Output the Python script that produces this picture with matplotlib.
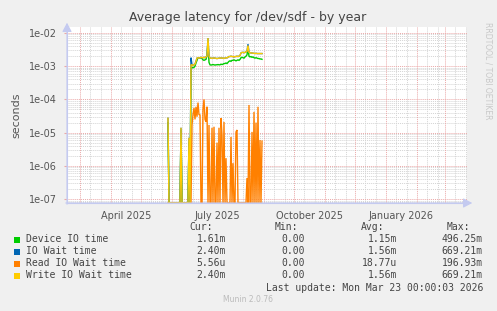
import numpy as np
import pandas as pd
import matplotlib
matplotlib.use("Agg")
import matplotlib.pyplot as plt
import matplotlib.dates as mdates
from matplotlib.transforms import blended_transform_factory

# ---------------- data (one value per day, starting 2025-05-28) ----------------
start_date = "2025-05-28"

device_io = ([2.0e-5] + [0.0] * 12 + [1.2e-5] + [0.0] * 7 + [5e-6, 0.0, 9.0e-4,
             9.0e-4, 9.0e-4, 9.2e-4, 1.0e-3, 1.25e-3, 1.5e-3,
             1.8e-3, 1.8e-3, 1.75e-3, 1.8e-3, 1.7e-3,
             1.55e-3, 1.5e-3, 1.55e-3, 1.6e-3, 2.1e-3, 5.5e-3, 1.3e-3,
             1.1e-3, 1.08e-3, 1.1e-3, 1.12e-3, 1.1e-3, 1.08e-3, 1.1e-3,
             1.1e-3, 1.12e-3, 1.1e-3, 1.1e-3, 1.15e-3, 1.12e-3, 1.15e-3,
             1.2e-3, 1.2e-3, 1.25e-3, 1.2e-3, 1.3e-3,
             1.4e-3, 1.45e-3, 1.4e-3, 1.5e-3,
             1.5e-3, 1.55e-3, 1.5e-3, 1.45e-3, 1.5e-3, 1.55e-3, 1.5e-3, 1.6e-3,
             1.8e-3, 1.85e-3, 1.8e-3, 1.75e-3,
             1.9e-3, 2.0e-3, 2.2e-3, 3.5e-3, 2.0e-3,
             1.9e-3, 1.95e-3, 1.85e-3, 1.9e-3,
             1.8e-3, 1.75e-3, 1.8e-3, 1.75e-3, 1.7e-3, 1.7e-3, 1.65e-3, 1.65e-3, 1.61e-3])

write_wait = ([2.7e-5] + [0.0] * 12 + [1.4e-5] + [0.0] * 7 + [7e-6, 0.0, 1.1e-3,
              1.1e-3, 1.05e-3, 1.1e-3, 1.15e-3, 1.4e-3,
              1.75e-3, 1.8e-3, 1.75e-3, 1.8e-3, 1.85e-3, 1.8e-3, 1.8e-3, 1.85e-3,
              1.8e-3, 1.9e-3, 2.0e-3, 7.0e-3, 2.0e-3,
              1.75e-3, 1.75e-3, 1.72e-3, 1.75e-3, 1.78e-3, 1.75e-3, 1.72e-3,
              1.7e-3, 1.72e-3, 1.75e-3, 1.75e-3, 1.78e-3, 1.75e-3, 1.75e-3,
              1.72e-3, 1.75e-3, 1.8e-3, 1.78e-3, 1.85e-3,
              1.95e-3, 1.95e-3, 2.0e-3, 1.95e-3, 1.95e-3, 1.9e-3, 1.95e-3,
              1.95e-3, 2.0e-3, 1.95e-3, 2.0e-3, 2.1e-3,
              2.5e-3, 2.6e-3, 2.6e-3, 2.55e-3, 2.6e-3, 2.7e-3, 2.8e-3, 4.2e-3,
              2.6e-3, 2.55e-3, 2.5e-3, 2.5e-3, 2.45e-3, 2.45e-3, 2.4e-3,
              2.45e-3, 2.4e-3, 2.4e-3, 2.4e-3, 2.4e-3, 2.4e-3, 2.4e-3])

io_wait = list(write_wait)
io_wait[23] = 1.8e-3
io_wait[80] = 4.6e-3

read_wait = ([0.0] * 24 + [1.7e-5, 3.5e-5, 5.5e-5, 2.5e-5, 6e-5, 3e-5, 8e-5, 3.5e-5,
             3.4e-5, 0.0, 0.0, 5e-5, 1.0e-4, 2.5e-5, 2.1e-5, 6e-5, 0.0, 1.7e-5,
             0.0, 0.0, 1.4e-5, 0.0, 1.5e-5, 0.0, 0.0, 5e-6, 0.0, 1.4e-5, 0.0,
             2.7e-5, 8.5e-6, 0.0, 2.1e-5, 0.0, 1.7e-6, 0.0, 0.0, 0.0, 0.0,
             7.4e-6, 0.0, 1.2e-6, 0.0, 0.0, 1.05e-5, 1.2e-5]
             + [0.0] * 9 + [4.3e-7, 0.0, 6.8e-5, 0.0, 0.0, 1.05e-5, 0.0, 4.2e-5,
             0.0, 2e-5, 0.0, 6e-5, 0.0, 6e-6, 0.0, 5.56e-6])

series_names = ["Device IO time", "IO Wait time", "Read IO Wait time", "Write IO Wait time"]
series_colors = ["#00CC00", "#0066B3", "#FF8000", "#FFCC00"]
cur_vals = ["1.61m", "2.40m", "5.56u", "2.40m"]
min_vals = ["0.00", "0.00", "0.00", "0.00"]
avg_vals = ["1.15m", "1.56m", "18.77u", "1.56m"]
max_vals = ["496.25m", "669.21m", "196.93m", "669.21m"]

x_start, x_end = "2025-02-16", "2026-03-23"
month_labels = ["April 2025", "July 2025", "October 2025", "January 2026"]
month_label_dates = ["2025-04-16", "2025-07-16", "2025-10-16", "2026-01-16"]
y_ticks = [1e-2, 1e-3, 1e-4, 1e-5, 1e-6, 1e-7]
y_tick_labels = ["1e-02", "1e-03", "1e-04", "1e-05", "1e-06", "1e-07"]

# ---------------- figure ----------------
W, H = 497, 311
BG = "#F0F0F0"
fig = plt.figure(figsize=(W / 100, H / 100), dpi=100, facecolor=BG)
L, R, T, B = 67, 467, 27, 203
ax = fig.add_axes([L / W, 1 - B / H, (R - L) / W, (B - T) / H])
ax.set_facecolor("white")
ax.set_yscale("log")
ymin, ymax = 10 ** -7.12, 10 ** -1.82
ax.set_ylim(ymin, ymax)
xs, xe = pd.Timestamp(x_start), pd.Timestamp(x_end)
ax.set_xlim(xs, xe)

# grid
minor_c = "#D4D4D4"
major_c = "#EBA8A8"
dot = (0, (1, 1))
for e in range(-8, -1):
    for k in range(2, 10):
        v = k * 10.0 ** e
        if ymin < v < ymax:
            ax.axhline(v, color=minor_c, lw=0.7, ls=dot, zorder=1)
for v in y_ticks:
    ax.axhline(v, color=major_c, lw=0.7, ls=dot, zorder=1.5)
months = pd.date_range("2025-03-01", "2026-03-01", freq="MS")
for m in months:
    for d in (10, 21):
        t = m + pd.Timedelta(days=d)
        if xs < t < xe:
            ax.axvline(t, color=minor_c, lw=0.7, ls=dot, zorder=1)
    ax.axvline(m, color=major_c, lw=0.7, ls=dot, zorder=1.5)

# data
dates = pd.date_range(start_date, periods=len(device_io), freq="D")
all_series = [device_io, io_wait, read_wait, write_wait]
for vals, col in zip(all_series, series_colors):
    v = np.maximum(np.array(vals, dtype=float), ymin * 1.0001)
    ax.plot(dates, v, color=col, lw=1.0, zorder=3, solid_joinstyle="miter")

# axes styling
for s in ["top", "right"]:
    ax.spines[s].set_visible(False)
axis_c = "#C4CAF0"
ax.spines["left"].set_color(axis_c)
ax.spines["bottom"].set_color(axis_c)
ax.spines["left"].set_linewidth(0.8)
ax.spines["bottom"].set_linewidth(0.8)
ax.set_yticks(y_ticks)
ax.set_yticklabels(y_tick_labels)
ax.yaxis.set_minor_locator(matplotlib.ticker.NullLocator())
ax.tick_params(axis="y", length=2, color=major_c, labelsize=7, labelcolor="#555555", pad=5)
ax.set_xticks([pd.Timestamp(d) for d in month_label_dates])
ax.set_xticklabels(month_labels)
ax.tick_params(axis="x", length=0, labelsize=7, labelcolor="#555555", pad=6)
ax.set_ylabel("seconds", fontsize=8, color="#555555", labelpad=6)

# axis arrows
fig.add_artist(matplotlib.patches.FancyArrowPatch(
    (L / W, 1 - (B + 4) / H), (L / W, 1 - 20 / H), transform=fig.transFigure,
    arrowstyle="-|>,head_length=3,head_width=1.6", color=axis_c, lw=0.8, mutation_scale=1.8))
fig.add_artist(matplotlib.patches.FancyArrowPatch(
    ((L - 4) / W, 1 - B / H), (475 / W, 1 - B / H), transform=fig.transFigure,
    arrowstyle="-|>,head_length=3,head_width=1.6", color=axis_c, lw=0.8, mutation_scale=1.8))

# title and side texts
fig.text(248 / W, 1 - 18 / H, "Average latency for /dev/sdf - by year", ha="center",
         va="center", fontsize=9, color="#444444")
fig.text(488 / W, 1 - 22 / H, "RRDTOOL / TOBI OETIKER", rotation=270, ha="center",
         va="top", fontsize=5.5, color="#C8C8C8")

# legend
mono = "DejaVu Sans Mono"
tc = "#444444"
fs = 7
def fy(y):
    return 1 - y / H
fig.text(213 / W, fy(227), "Cur:", ha="right", va="center", family=mono, fontsize=fs, color=tc)
fig.text(298 / W, fy(227), "Min:", ha="right", va="center", family=mono, fontsize=fs, color=tc)
fig.text(384 / W, fy(227), "Avg:", ha="right", va="center", family=mono, fontsize=fs, color=tc)
fig.text(470 / W, fy(227), "Max:", ha="right", va="center", family=mono, fontsize=fs, color=tc)
for i, (nm, col) in enumerate(zip(series_names, series_colors)):
    y = 239.5 + 12 * i
    fig.add_artist(matplotlib.patches.Rectangle((14 / W, fy(y + 3)), 6 / W, 6 / H,
                                                transform=fig.transFigure, color=col, lw=0))
    fig.text(26 / W, fy(y), nm, ha="left", va="center", family=mono, fontsize=fs, color=tc)
    fig.text(226 / W, fy(y), cur_vals[i], ha="right", va="center", family=mono, fontsize=fs, color=tc)
    fig.text(305 / W, fy(y), min_vals[i], ha="right", va="center", family=mono, fontsize=fs, color=tc)
    fig.text(397 / W, fy(y), avg_vals[i], ha="right", va="center", family=mono, fontsize=fs, color=tc)
    fig.text(483 / W, fy(y), max_vals[i], ha="right", va="center", family=mono, fontsize=fs, color=tc)
fig.text(483 / W, fy(287.7), "Last update: Mon Mar 23 00:00:03 2026", ha="right", va="center",
         family=mono, fontsize=fs, color=tc)
fig.text(248 / W, fy(300), "Munin 2.0.76", ha="center", va="center", fontsize=5.5, color="#BBBBBB")

fig.savefig("out.png", dpi=100, facecolor=BG)
